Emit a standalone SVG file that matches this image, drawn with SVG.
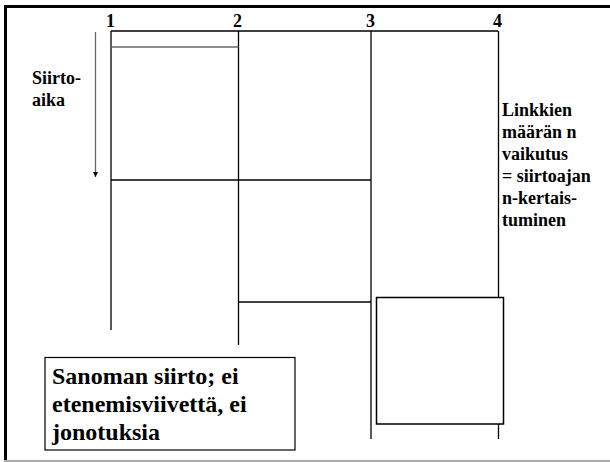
<svg xmlns="http://www.w3.org/2000/svg" width="610" height="462" viewBox="0 0 610 462">
<defs>
<marker id="ah" markerWidth="6" markerHeight="6" refX="5" refY="3" orient="auto" markerUnits="userSpaceOnUse">
<path d="M0,0.5 L5,3 L0,5.5 Z" fill="#000"/>
</marker>
</defs>
<rect width="610" height="462" fill="#fff"/>
<g id="frame">
<line x1="4" y1="6.5" x2="610" y2="6.5" stroke="#000" stroke-width="3"/>
<line x1="5.5" y1="5" x2="5.5" y2="462" stroke="#000" stroke-width="3"/>
<line x1="4" y1="461" x2="610" y2="461" stroke="#aaa" stroke-width="2"/>
</g>
<g id="labels">
<text font-family="Liberation Serif" font-size="18" font-weight="bold" x="106" y="27">1</text>
<text font-family="Liberation Serif" font-size="18" font-weight="bold" x="233" y="27">2</text>
<text font-family="Liberation Serif" font-size="18" font-weight="bold" x="366" y="27">3</text>
<text font-family="Liberation Serif" font-size="18" font-weight="bold" x="493" y="27">4</text>
</g>
<g id="connectors" stroke="#000" stroke-width="1.3" fill="none">
<line x1="111" y1="31" x2="498" y2="31"/>
<line x1="111" y1="31" x2="111" y2="330"/>
<line x1="238.5" y1="31" x2="238.5" y2="345"/>
<line x1="371" y1="31" x2="371" y2="439"/>
<line x1="498.5" y1="31" x2="498.5" y2="439"/>
<line x1="111" y1="47" x2="238.5" y2="47" stroke="#666"/>
<line x1="111" y1="180" x2="371" y2="180"/>
<line x1="238.5" y1="302" x2="371" y2="302"/>
<line x1="95.5" y1="32" x2="95.5" y2="177" stroke="#666" marker-end="url(#ah)"/>
</g>
<g id="node-4">
<rect x="376.5" y="297.5" width="127" height="126.5" fill="#fff" stroke="#000" stroke-width="1.5"/>
</g>
<g id="siirtoaika">
<text font-family="Liberation Serif" font-size="18" font-weight="bold" x="32" y="84">Siirto-</text>
<text font-family="Liberation Serif" font-size="18" font-weight="bold" x="32" y="106">aika</text>
</g>
<g id="linkkien">
<text font-family="Liberation Serif" font-size="18" font-weight="bold" x="502" y="116">Linkkien</text>
<text font-family="Liberation Serif" font-size="18" font-weight="bold" x="502" y="138">määrän n</text>
<text font-family="Liberation Serif" font-size="18" font-weight="bold" x="502" y="160">vaikutus</text>
<text font-family="Liberation Serif" font-size="18" font-weight="bold" x="502" y="182">= siirtoajan</text>
<text font-family="Liberation Serif" font-size="18" font-weight="bold" x="502" y="204">n-kertais-</text>
<text font-family="Liberation Serif" font-size="18" font-weight="bold" x="502" y="226">tuminen</text>
</g>
<g id="note">
<rect x="45" y="357.5" width="250" height="92.5" fill="#fff" stroke="#000" stroke-width="1.2"/>
<text font-family="Liberation Serif" font-size="24" font-weight="bold" x="52" y="384">Sanoman siirto; ei</text>
<text font-family="Liberation Serif" font-size="24" font-weight="bold" x="52" y="412">etenemisviivettä, ei</text>
<text font-family="Liberation Serif" font-size="24" font-weight="bold" x="52" y="440">jonotuksia</text>
</g>
</svg>
